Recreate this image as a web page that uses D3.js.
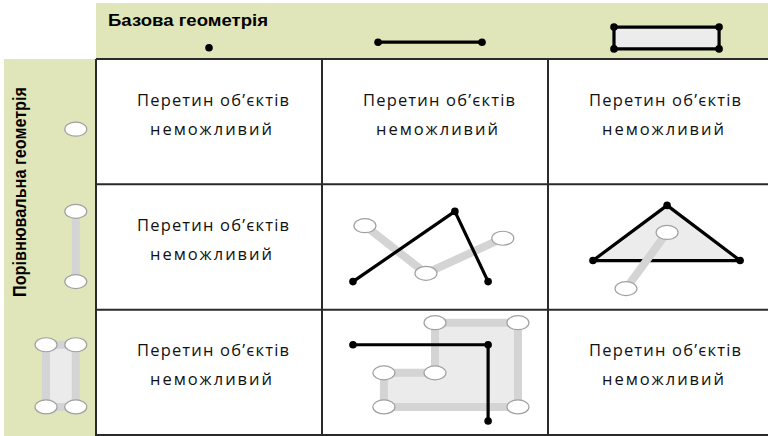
<!DOCTYPE html>
<html><head><meta charset="utf-8">
<script src="https://cdn.jsdelivr.net/npm/d3@7"></script>
<style>body{margin:0;background:#fff}svg{display:block}</style>
</head><body>
<script>
// ---- data ----
const colTitle = "Базова геометрія";
const rowTitle = "Порівнювальна геометрія";
const cellLine1 = "Перетин об’єктів";
const cellLine2 = "неможливий";
// which cells contain text (row, col)
const textCells = [[0,0],[0,1],[0,2],[1,0],[2,0],[2,2]];
// base geometry icons in header (normalized coords within header cell)
const basePoint = [[0.5,0.8]];
const baseLine = [[0.248,0.7],[0.708,0.7]];
const baseRect = [[0.292,0.43],[0.757,0.43],[0.757,0.82],[0.292,0.82]];
// comparison geometry icons in left header (normalized within row-header cell)
const cmpPoint = [[0.78,0.56]];
const cmpLine = [[0.78,0.216],[0.78,0.776]];
const cmpRect = [[0.457,0.28],[0.78,0.28],[0.78,0.776],[0.457,0.776]];
// cell (1,1): line vs line
const c11Gray = [[0.19,0.33],[0.46,0.71],[0.80,0.43]];
const c11Black = [[0.137,0.776],[0.588,0.216],[0.735,0.776]];
// cell (1,2): line vs polygon
const c12Tri = [[0.199,0.608],[0.527,0.168],[0.85,0.608]];
const c12Gray = [[0.527,0.384],[0.345,0.832]];
// cell (2,1): polygon vs line
const c21Poly = [[0.5,0.104],[0.867,0.104],[0.867,0.776],[0.274,0.776],[0.274,0.504],[0.5,0.504]];
const c21Black = [[0.137,0.28],[0.735,0.28],[0.735,0.888]];

const W=768,H=436;
const svg=d3.select("body").append("svg").attr("width",W).attr("height",H);
const green="#e1e6ba";
const col=d3.scaleBand().domain([0,1,2]).range([96,774]);
const row=d3.scaleBand().domain([0,1,2]).range([59,435]);
const cw=col.bandwidth(), rh=row.bandwidth();

// header bands
svg.append("rect").attr("x",96).attr("y",3).attr("width",W-96).attr("height",56).attr("fill",green);
svg.append("rect").attr("x",4).attr("y",59).attr("width",92).attr("height",H-59).attr("fill",green);
svg.append("rect").attr("x",96).attr("y",59).attr("width",W-96).attr("height",H-59).attr("fill","#fff");

function box(x0,y0,w,h){return {x:d3.scaleLinear().domain([0,1]).range([x0,x0+w]), y:d3.scaleLinear().domain([0,1]).range([y0,y0+h])};}
const line=(s)=>d3.line().x(d=>s.x(d[0])).y(d=>s.y(d[1]));

function blackPath(g,s,pts,closed,fill){
  g.append("path").attr("d",line(s)(pts)+(closed?"Z":"")).attr("fill",fill||"none")
   .attr("stroke","#000").attr("stroke-width",3.2).attr("stroke-linejoin","round");
  g.selectAll(null).data(pts).join("circle").attr("cx",d=>s.x(d[0])).attr("cy",d=>s.y(d[1])).attr("r",3.8).attr("fill","#000");
}
function grayPath(g,s,pts,closed,fill){
  g.append("path").attr("d",line(s)(pts)+(closed?"Z":"")).attr("fill",fill||"none")
   .attr("stroke","#d4d4d4").attr("stroke-width",8).attr("stroke-linejoin","miter");
  g.selectAll(null).data(pts).join("ellipse").attr("cx",d=>s.x(d[0])).attr("cy",d=>s.y(d[1])).attr("rx",11).attr("ry",7)
   .attr("fill","#fff").attr("stroke","#a0a0a0").attr("stroke-width",1.2);
}

const gh=svg.append("g");
blackPath(gh,box(col(0),3,cw,56),basePoint,false);
blackPath(gh,box(col(1),3,cw,56),baseLine,false);
blackPath(gh,box(col(2),3,cw,56),baseRect,true,"#ececec");
grayPath(gh,box(4,row(0),92,rh),cmpPoint,false);
grayPath(gh,box(4,row(1),92,rh),cmpLine,false);
grayPath(gh,box(4,row(2),92,rh),cmpRect,true,"#ebebeb");

const g2=svg.append("g");
let s=box(col(1),row(1),cw,rh);
grayPath(g2,s,c11Gray,false); blackPath(g2,s,c11Black,false);
s=box(col(2),row(1),cw,rh);
blackPath(g2,s,c12Tri,true,"#ececec"); grayPath(g2,s,c12Gray,false);
s=box(col(1),row(2),cw,rh);
grayPath(g2,s,c21Poly,true,"#ebebeb"); blackPath(g2,s,c21Black,false);

const font="'Open Sans', 'Noto Sans', sans-serif";
textCells.forEach(([r,c])=>{
  const cx=col(c)+cw/2+4, y1=row(r)+rh/2-16;
  svg.append("text").attr("x",cx).attr("y",y1).attr("text-anchor","middle").attr("font-family",font)
    .attr("font-size",16.5).attr("fill","#111").attr("textLength",152).attr("lengthAdjust","spacing").text(cellLine1);
  svg.append("text").attr("x",cx-2).attr("y",y1+29).attr("text-anchor","middle").attr("font-family",font)
    .attr("font-size",16.5).attr("fill","#111").attr("textLength",122).attr("lengthAdjust","spacing").text(cellLine2);
});

const gl=svg.append("g").attr("stroke","#2a2a2a").attr("stroke-width",2);
[0,1,2].forEach(c=>gl.append("line").attr("x1",col(c)).attr("x2",col(c)).attr("y1",59).attr("y2",H));
[0,1,2].forEach(r=>gl.append("line").attr("x1",96).attr("x2",W).attr("y1",row(r)).attr("y2",row(r)));
gl.append("line").attr("x1",96).attr("x2",W).attr("y1",435).attr("y2",435);

const bfont="'Liberation Sans', Arial, sans-serif";
svg.append("text").attr("x",108).attr("y",26).attr("font-family",bfont).attr("font-weight","bold")
  .attr("font-size",17).attr("fill","#000").attr("textLength",160).attr("lengthAdjust","spacingAndGlyphs").text(colTitle);
svg.append("text").attr("transform","translate(26,192) rotate(-90)").attr("text-anchor","middle")
  .attr("font-family",bfont).attr("font-weight","bold").attr("font-size",18).attr("fill","#000")
  .attr("textLength",210).attr("lengthAdjust","spacingAndGlyphs").text(rowTitle);
</script>
</body></html>
